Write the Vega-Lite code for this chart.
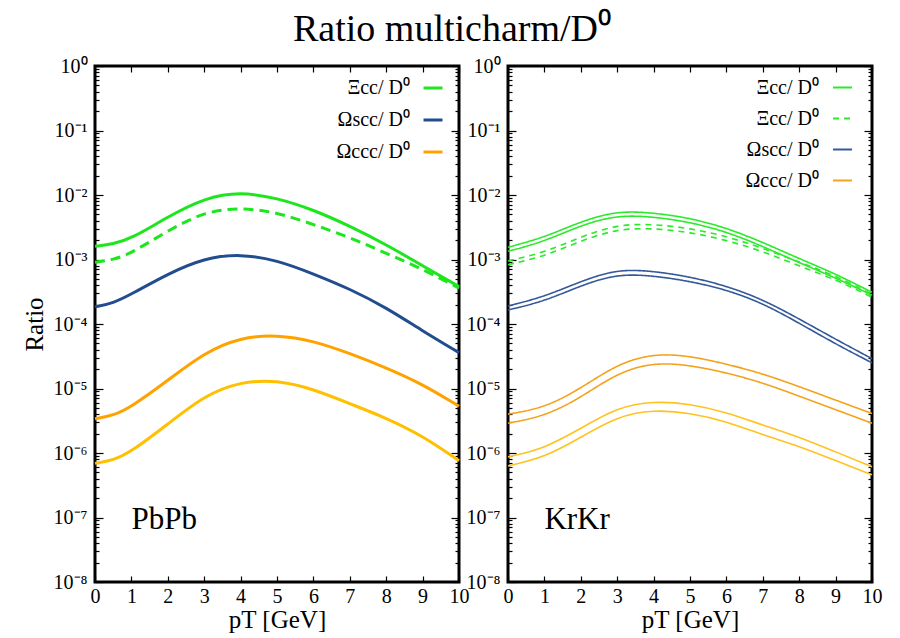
{
  "$schema": "https://vega.github.io/schema/vega-lite/v6.json",
  "title": {
    "text": "Ratio multicharm/D⁰",
    "font": "Liberation Serif",
    "fontSize": 38,
    "fontWeight": "normal",
    "color": "#000",
    "anchor": "middle",
    "frame": "bounds",
    "offset": 6
  },
  "padding": {"left": 20, "top": 10, "right": 5, "bottom": 4},
  "bounds": "flush",
  "spacing": 49,
  "resolve": {
    "scale": {"color": "independent", "strokeDash": "independent"},
    "legend": {"color": "independent", "strokeDash": "independent"}
  },
  "datasets": {
    "pbpb": [
      {"curve": "Xi_cc", "pT": 0, "ratio": 1.6e-3},
      {"curve": "Xi_cc", "pT": 0.5, "ratio": 1.74e-3},
      {"curve": "Xi_cc", "pT": 1, "ratio": 2.1e-3},
      {"curve": "Xi_cc", "pT": 2, "ratio": 4.6e-3},
      {"curve": "Xi_cc", "pT": 3, "ratio": 9.0e-3},
      {"curve": "Xi_cc", "pT": 4, "ratio": 1.12e-2},
      {"curve": "Xi_cc", "pT": 5, "ratio": 9.0e-3},
      {"curve": "Xi_cc", "pT": 6, "ratio": 5.9e-3},
      {"curve": "Xi_cc", "pT": 7, "ratio": 3.3e-3},
      {"curve": "Xi_cc", "pT": 8, "ratio": 1.7e-3},
      {"curve": "Xi_cc", "pT": 9, "ratio": 8.0e-4},
      {"curve": "Xi_cc", "pT": 10, "ratio": 3.8e-4},

      {"curve": "Xi_cc_alt", "pT": 0, "ratio": 9.1e-4},
      {"curve": "Xi_cc_alt", "pT": 0.5, "ratio": 9.9e-4},
      {"curve": "Xi_cc_alt", "pT": 1, "ratio": 1.25e-3},
      {"curve": "Xi_cc_alt", "pT": 2, "ratio": 2.8e-3},
      {"curve": "Xi_cc_alt", "pT": 3, "ratio": 5.5e-3},
      {"curve": "Xi_cc_alt", "pT": 4, "ratio": 6.4e-3},
      {"curve": "Xi_cc_alt", "pT": 5, "ratio": 5.4e-3},
      {"curve": "Xi_cc_alt", "pT": 6, "ratio": 3.5e-3},
      {"curve": "Xi_cc_alt", "pT": 7, "ratio": 2.2e-3},
      {"curve": "Xi_cc_alt", "pT": 8, "ratio": 1.25e-3},
      {"curve": "Xi_cc_alt", "pT": 9, "ratio": 7.1e-4},
      {"curve": "Xi_cc_alt", "pT": 10, "ratio": 3.6e-4},

      {"curve": "Omega_scc", "pT": 0, "ratio": 1.85e-4},
      {"curve": "Omega_scc", "pT": 0.5, "ratio": 2.1e-4},
      {"curve": "Omega_scc", "pT": 1, "ratio": 2.9e-4},
      {"curve": "Omega_scc", "pT": 2, "ratio": 6.0e-4},
      {"curve": "Omega_scc", "pT": 3, "ratio": 1.05e-3},
      {"curve": "Omega_scc", "pT": 4, "ratio": 1.22e-3},
      {"curve": "Omega_scc", "pT": 5, "ratio": 9.8e-4},
      {"curve": "Omega_scc", "pT": 6, "ratio": 6.0e-4},
      {"curve": "Omega_scc", "pT": 7, "ratio": 3.5e-4},
      {"curve": "Omega_scc", "pT": 8, "ratio": 1.8e-4},
      {"curve": "Omega_scc", "pT": 9, "ratio": 7.8e-5},
      {"curve": "Omega_scc", "pT": 10, "ratio": 3.6e-5},

      {"curve": "Omega_ccc", "pT": 0, "ratio": 3.4e-6},
      {"curve": "Omega_ccc", "pT": 0.5, "ratio": 3.8e-6},
      {"curve": "Omega_ccc", "pT": 1, "ratio": 5.2e-6},
      {"curve": "Omega_ccc", "pT": 2, "ratio": 1.33e-5},
      {"curve": "Omega_ccc", "pT": 3, "ratio": 3.6e-5},
      {"curve": "Omega_ccc", "pT": 4, "ratio": 6.2e-5},
      {"curve": "Omega_ccc", "pT": 5, "ratio": 6.8e-5},
      {"curve": "Omega_ccc", "pT": 6, "ratio": 5.5e-5},
      {"curve": "Omega_ccc", "pT": 7, "ratio": 3.5e-5},
      {"curve": "Omega_ccc", "pT": 8, "ratio": 2.1e-5},
      {"curve": "Omega_ccc", "pT": 9, "ratio": 1.17e-5},
      {"curve": "Omega_ccc", "pT": 10, "ratio": 5.3e-6},

      {"curve": "Omega_ccc_alt", "pT": 0, "ratio": 6.9e-7},
      {"curve": "Omega_ccc_alt", "pT": 0.5, "ratio": 7.7e-7},
      {"curve": "Omega_ccc_alt", "pT": 1, "ratio": 1.05e-6},
      {"curve": "Omega_ccc_alt", "pT": 2, "ratio": 2.8e-6},
      {"curve": "Omega_ccc_alt", "pT": 3, "ratio": 7.8e-6},
      {"curve": "Omega_ccc_alt", "pT": 4, "ratio": 1.28e-5},
      {"curve": "Omega_ccc_alt", "pT": 5, "ratio": 1.35e-5},
      {"curve": "Omega_ccc_alt", "pT": 6, "ratio": 9.8e-6},
      {"curve": "Omega_ccc_alt", "pT": 7, "ratio": 5.8e-6},
      {"curve": "Omega_ccc_alt", "pT": 8, "ratio": 3.5e-6},
      {"curve": "Omega_ccc_alt", "pT": 9, "ratio": 1.85e-6},
      {"curve": "Omega_ccc_alt", "pT": 10, "ratio": 7.6e-7}
    ],
    "krkr": [
      {"curve": "Xi_cc", "edge": "hi", "pT": 0, "ratio": 1.55e-3},
      {"curve": "Xi_cc", "edge": "hi", "pT": 1, "ratio": 2.2e-3},
      {"curve": "Xi_cc", "edge": "hi", "pT": 2, "ratio": 3.9e-3},
      {"curve": "Xi_cc", "edge": "hi", "pT": 3, "ratio": 5.7e-3},
      {"curve": "Xi_cc", "edge": "hi", "pT": 4, "ratio": 5.3e-3},
      {"curve": "Xi_cc", "edge": "hi", "pT": 5, "ratio": 4.4e-3},
      {"curve": "Xi_cc", "edge": "hi", "pT": 6, "ratio": 3.1e-3},
      {"curve": "Xi_cc", "edge": "hi", "pT": 7, "ratio": 1.85e-3},
      {"curve": "Xi_cc", "edge": "hi", "pT": 8, "ratio": 1.03e-3},
      {"curve": "Xi_cc", "edge": "hi", "pT": 9, "ratio": 6.0e-4},
      {"curve": "Xi_cc", "edge": "hi", "pT": 10, "ratio": 3.1e-4},
      {"curve": "Xi_cc", "edge": "lo", "pT": 0, "ratio": 1.34e-3},
      {"curve": "Xi_cc", "edge": "lo", "pT": 1, "ratio": 1.9e-3},
      {"curve": "Xi_cc", "edge": "lo", "pT": 2, "ratio": 3.4e-3},
      {"curve": "Xi_cc", "edge": "lo", "pT": 3, "ratio": 4.9e-3},
      {"curve": "Xi_cc", "edge": "lo", "pT": 4, "ratio": 4.6e-3},
      {"curve": "Xi_cc", "edge": "lo", "pT": 5, "ratio": 3.8e-3},
      {"curve": "Xi_cc", "edge": "lo", "pT": 6, "ratio": 2.7e-3},
      {"curve": "Xi_cc", "edge": "lo", "pT": 7, "ratio": 1.6e-3},
      {"curve": "Xi_cc", "edge": "lo", "pT": 8, "ratio": 8.9e-4},
      {"curve": "Xi_cc", "edge": "lo", "pT": 9, "ratio": 5.2e-4},
      {"curve": "Xi_cc", "edge": "lo", "pT": 10, "ratio": 2.8e-4},

      {"curve": "Xi_cc_alt", "edge": "hi", "pT": 0, "ratio": 9.5e-4},
      {"curve": "Xi_cc_alt", "edge": "hi", "pT": 1, "ratio": 1.28e-3},
      {"curve": "Xi_cc_alt", "edge": "hi", "pT": 2, "ratio": 2.25e-3},
      {"curve": "Xi_cc_alt", "edge": "hi", "pT": 3, "ratio": 3.5e-3},
      {"curve": "Xi_cc_alt", "edge": "hi", "pT": 4, "ratio": 3.55e-3},
      {"curve": "Xi_cc_alt", "edge": "hi", "pT": 5, "ratio": 3.05e-3},
      {"curve": "Xi_cc_alt", "edge": "hi", "pT": 6, "ratio": 2.3e-3},
      {"curve": "Xi_cc_alt", "edge": "hi", "pT": 7, "ratio": 1.5e-3},
      {"curve": "Xi_cc_alt", "edge": "hi", "pT": 8, "ratio": 9.1e-4},
      {"curve": "Xi_cc_alt", "edge": "hi", "pT": 9, "ratio": 5.6e-4},
      {"curve": "Xi_cc_alt", "edge": "hi", "pT": 10, "ratio": 2.9e-4},
      {"curve": "Xi_cc_alt", "edge": "lo", "pT": 0, "ratio": 8.3e-4},
      {"curve": "Xi_cc_alt", "edge": "lo", "pT": 1, "ratio": 1.12e-3},
      {"curve": "Xi_cc_alt", "edge": "lo", "pT": 2, "ratio": 1.95e-3},
      {"curve": "Xi_cc_alt", "edge": "lo", "pT": 3, "ratio": 3.0e-3},
      {"curve": "Xi_cc_alt", "edge": "lo", "pT": 4, "ratio": 3.05e-3},
      {"curve": "Xi_cc_alt", "edge": "lo", "pT": 5, "ratio": 2.65e-3},
      {"curve": "Xi_cc_alt", "edge": "lo", "pT": 6, "ratio": 2.0e-3},
      {"curve": "Xi_cc_alt", "edge": "lo", "pT": 7, "ratio": 1.34e-3},
      {"curve": "Xi_cc_alt", "edge": "lo", "pT": 8, "ratio": 7.9e-4},
      {"curve": "Xi_cc_alt", "edge": "lo", "pT": 9, "ratio": 4.9e-4},
      {"curve": "Xi_cc_alt", "edge": "lo", "pT": 10, "ratio": 2.6e-4},

      {"curve": "Omega_scc", "edge": "hi", "pT": 0, "ratio": 1.9e-4},
      {"curve": "Omega_scc", "edge": "hi", "pT": 1, "ratio": 2.65e-4},
      {"curve": "Omega_scc", "edge": "hi", "pT": 2, "ratio": 4.6e-4},
      {"curve": "Omega_scc", "edge": "hi", "pT": 3, "ratio": 7.1e-4},
      {"curve": "Omega_scc", "edge": "hi", "pT": 4, "ratio": 6.6e-4},
      {"curve": "Omega_scc", "edge": "hi", "pT": 5, "ratio": 5.4e-4},
      {"curve": "Omega_scc", "edge": "hi", "pT": 6, "ratio": 3.9e-4},
      {"curve": "Omega_scc", "edge": "hi", "pT": 7, "ratio": 2.4e-4},
      {"curve": "Omega_scc", "edge": "hi", "pT": 8, "ratio": 1.2e-4},
      {"curve": "Omega_scc", "edge": "hi", "pT": 9, "ratio": 5.8e-5},
      {"curve": "Omega_scc", "edge": "hi", "pT": 10, "ratio": 2.9e-5},
      {"curve": "Omega_scc", "edge": "lo", "pT": 0, "ratio": 1.65e-4},
      {"curve": "Omega_scc", "edge": "lo", "pT": 1, "ratio": 2.25e-4},
      {"curve": "Omega_scc", "edge": "lo", "pT": 2, "ratio": 3.95e-4},
      {"curve": "Omega_scc", "edge": "lo", "pT": 3, "ratio": 6.0e-4},
      {"curve": "Omega_scc", "edge": "lo", "pT": 4, "ratio": 5.6e-4},
      {"curve": "Omega_scc", "edge": "lo", "pT": 5, "ratio": 4.6e-4},
      {"curve": "Omega_scc", "edge": "lo", "pT": 6, "ratio": 3.4e-4},
      {"curve": "Omega_scc", "edge": "lo", "pT": 7, "ratio": 2.1e-4},
      {"curve": "Omega_scc", "edge": "lo", "pT": 8, "ratio": 1.03e-4},
      {"curve": "Omega_scc", "edge": "lo", "pT": 9, "ratio": 4.9e-5},
      {"curve": "Omega_scc", "edge": "lo", "pT": 10, "ratio": 2.5e-5},

      {"curve": "Omega_ccc", "edge": "hi", "pT": 0, "ratio": 4.0e-6},
      {"curve": "Omega_ccc", "edge": "hi", "pT": 1, "ratio": 5.0e-6},
      {"curve": "Omega_ccc", "edge": "hi", "pT": 2, "ratio": 1.0e-5},
      {"curve": "Omega_ccc", "edge": "hi", "pT": 3, "ratio": 2.4e-5},
      {"curve": "Omega_ccc", "edge": "hi", "pT": 4, "ratio": 3.5e-5},
      {"curve": "Omega_ccc", "edge": "hi", "pT": 5, "ratio": 3.2e-5},
      {"curve": "Omega_ccc", "edge": "hi", "pT": 6, "ratio": 2.4e-5},
      {"curve": "Omega_ccc", "edge": "hi", "pT": 7, "ratio": 1.7e-5},
      {"curve": "Omega_ccc", "edge": "hi", "pT": 8, "ratio": 1.07e-5},
      {"curve": "Omega_ccc", "edge": "hi", "pT": 9, "ratio": 6.6e-6},
      {"curve": "Omega_ccc", "edge": "hi", "pT": 10, "ratio": 4.1e-6},
      {"curve": "Omega_ccc", "edge": "lo", "pT": 0, "ratio": 2.9e-6},
      {"curve": "Omega_ccc", "edge": "lo", "pT": 1, "ratio": 3.7e-6},
      {"curve": "Omega_ccc", "edge": "lo", "pT": 2, "ratio": 7.2e-6},
      {"curve": "Omega_ccc", "edge": "lo", "pT": 3, "ratio": 1.75e-5},
      {"curve": "Omega_ccc", "edge": "lo", "pT": 4, "ratio": 2.55e-5},
      {"curve": "Omega_ccc", "edge": "lo", "pT": 5, "ratio": 2.3e-5},
      {"curve": "Omega_ccc", "edge": "lo", "pT": 6, "ratio": 1.76e-5},
      {"curve": "Omega_ccc", "edge": "lo", "pT": 7, "ratio": 1.23e-5},
      {"curve": "Omega_ccc", "edge": "lo", "pT": 8, "ratio": 7.6e-6},
      {"curve": "Omega_ccc", "edge": "lo", "pT": 9, "ratio": 4.7e-6},
      {"curve": "Omega_ccc", "edge": "lo", "pT": 10, "ratio": 2.9e-6},

      {"curve": "Omega_ccc_alt", "edge": "hi", "pT": 0, "ratio": 8.7e-7},
      {"curve": "Omega_ccc_alt", "edge": "hi", "pT": 1, "ratio": 1.17e-6},
      {"curve": "Omega_ccc_alt", "edge": "hi", "pT": 2, "ratio": 2.4e-6},
      {"curve": "Omega_ccc_alt", "edge": "hi", "pT": 3, "ratio": 5.1e-6},
      {"curve": "Omega_ccc_alt", "edge": "hi", "pT": 4, "ratio": 6.4e-6},
      {"curve": "Omega_ccc_alt", "edge": "hi", "pT": 5, "ratio": 5.8e-6},
      {"curve": "Omega_ccc_alt", "edge": "hi", "pT": 6, "ratio": 4.3e-6},
      {"curve": "Omega_ccc_alt", "edge": "hi", "pT": 7, "ratio": 2.7e-6},
      {"curve": "Omega_ccc_alt", "edge": "hi", "pT": 8, "ratio": 1.78e-6},
      {"curve": "Omega_ccc_alt", "edge": "hi", "pT": 9, "ratio": 1.04e-6},
      {"curve": "Omega_ccc_alt", "edge": "hi", "pT": 10, "ratio": 6.1e-7},
      {"curve": "Omega_ccc_alt", "edge": "lo", "pT": 0, "ratio": 6.3e-7},
      {"curve": "Omega_ccc_alt", "edge": "lo", "pT": 1, "ratio": 8.5e-7},
      {"curve": "Omega_ccc_alt", "edge": "lo", "pT": 2, "ratio": 1.75e-6},
      {"curve": "Omega_ccc_alt", "edge": "lo", "pT": 3, "ratio": 3.7e-6},
      {"curve": "Omega_ccc_alt", "edge": "lo", "pT": 4, "ratio": 4.7e-6},
      {"curve": "Omega_ccc_alt", "edge": "lo", "pT": 5, "ratio": 4.2e-6},
      {"curve": "Omega_ccc_alt", "edge": "lo", "pT": 6, "ratio": 3.1e-6},
      {"curve": "Omega_ccc_alt", "edge": "lo", "pT": 7, "ratio": 1.9e-6},
      {"curve": "Omega_ccc_alt", "edge": "lo", "pT": 8, "ratio": 1.28e-6},
      {"curve": "Omega_ccc_alt", "edge": "lo", "pT": 9, "ratio": 7.6e-7},
      {"curve": "Omega_ccc_alt", "edge": "lo", "pT": 10, "ratio": 4.6e-7}
    ]
  },
  "hconcat": [
    {
      "width": 364,
      "height": 516,
      "data": {"name": "pbpb"},
      "layer": [
        {
          "transform": [{"filter": {"field": "curve", "oneOf": ["Xi_cc", "Omega_scc", "Omega_ccc"]}}],
          "mark": {"type": "line", "strokeWidth": 3, "interpolate": "basis"},
          "encoding": {
            "x": {
              "field": "pT", "type": "quantitative",
              "scale": {"domain": [0, 10], "nice": false},
              "axis": {"orient": "bottom", "values": [0, 1, 2, 3, 4, 5, 6, 7, 8, 9, 10], "tickSize": -6, "labelPadding": 10, "labelFlush": false, "title": "pT [GeV]", "titlePadding": 1}
            },
            "y": {
              "field": "ratio", "type": "quantitative",
              "scale": {"type": "log", "domain": [1e-8, 1], "nice": false},
              "axis": {
                "orient": "left",
                "title": "Ratio",
                "titlePadding": 6,
                "labelPadding": 16,
                "values": [1e-8, 2e-8, 3e-8, 4e-8, 5e-8, 6e-8, 7e-8, 8e-8, 9e-8, 1e-7, 2e-7, 3e-7, 4e-7, 5e-7, 6e-7, 7e-7, 8e-7, 9e-7, 1e-6, 2e-6, 3e-6, 4e-6, 5e-6, 6e-6, 7e-6, 8e-6, 9e-6, 1e-5, 2e-5, 3e-5, 4e-5, 5e-5, 6e-5, 7e-5, 8e-5, 9e-5, 1e-4, 2e-4, 3e-4, 4e-4, 5e-4, 6e-4, 7e-4, 8e-4, 9e-4, 1e-3, 2e-3, 3e-3, 4e-3, 5e-3, 6e-3, 7e-3, 8e-3, 9e-3, 1e-2, 2e-2, 3e-2, 4e-2, 5e-2, 6e-2, 7e-2, 8e-2, 9e-2, 1e-1, 2e-1, 3e-1, 4e-1, 5e-1, 6e-1, 7e-1, 8e-1, 9e-1, 1],
                "labelExpr": "abs(log(datum.value)/LN10 - round(log(datum.value)/LN10)) < 0.001 ? ['10⁰','10⁻¹','10⁻²','10⁻³','10⁻⁴','10⁻⁵','10⁻⁶','10⁻⁷','10⁻⁸'][-round(log(datum.value)/LN10)] : ''",
                "tickSize": {"condition": {"test": "abs(log(datum.value)/LN10 - round(log(datum.value)/LN10)) < 0.001", "value": -8}, "value": -4}
              }
            },
            "color": {
              "field": "curve", "type": "nominal",
              "scale": {"domain": ["Xi_cc", "Omega_scc", "Omega_ccc"], "range": ["#1ee61e", "#214d8f", "#ffa200"]},
              "legend": {
                "orient": "none",
                "legendX": 327,
                "legendY": 11,
                "title": null,
                "labelExpr": "datum.label === 'Xi_cc' ? 'Ξcc/ D⁰' : datum.label === 'Omega_scc' ? 'Ωscc/ D⁰' : 'Ωccc/ D⁰'",
                "labelAlign": "right",
                "labelOffset": -34,
                "symbolType": "stroke",
                "symbolSize": 360,
                "symbolStrokeWidth": 3,
                "rowPadding": 11
              }
            }
          }
        },
        {
          "transform": [{"filter": {"field": "curve", "equal": "Xi_cc_alt"}}],
          "mark": {"type": "line", "strokeWidth": 3, "strokeDash": [10, 6], "color": "#1ee61e", "interpolate": "basis"},
          "encoding": {
            "x": {"field": "pT", "type": "quantitative", "axis": {"orient": "top", "values": [0, 1, 2, 3, 4, 5, 6, 7, 8, 9, 10], "tickSize": -6, "labels": false, "title": null}},
            "y": {
              "field": "ratio", "type": "quantitative",
              "axis": {
                "orient": "right", "labels": false, "title": null,
                "values": [1e-8, 2e-8, 3e-8, 4e-8, 5e-8, 6e-8, 7e-8, 8e-8, 9e-8, 1e-7, 2e-7, 3e-7, 4e-7, 5e-7, 6e-7, 7e-7, 8e-7, 9e-7, 1e-6, 2e-6, 3e-6, 4e-6, 5e-6, 6e-6, 7e-6, 8e-6, 9e-6, 1e-5, 2e-5, 3e-5, 4e-5, 5e-5, 6e-5, 7e-5, 8e-5, 9e-5, 1e-4, 2e-4, 3e-4, 4e-4, 5e-4, 6e-4, 7e-4, 8e-4, 9e-4, 1e-3, 2e-3, 3e-3, 4e-3, 5e-3, 6e-3, 7e-3, 8e-3, 9e-3, 1e-2, 2e-2, 3e-2, 4e-2, 5e-2, 6e-2, 7e-2, 8e-2, 9e-2, 1e-1, 2e-1, 3e-1, 4e-1, 5e-1, 6e-1, 7e-1, 8e-1, 9e-1, 1],
                "tickSize": {"condition": {"test": "abs(log(datum.value)/LN10 - round(log(datum.value)/LN10)) < 0.001", "value": -8}, "value": -4}
              }
            }
          }
        },
        {
          "transform": [{"filter": {"field": "curve", "equal": "Omega_ccc_alt"}}],
          "mark": {"type": "line", "strokeWidth": 3, "color": "#ffc000", "interpolate": "basis"},
          "encoding": {
            "x": {"field": "pT", "type": "quantitative", "axis": null},
            "y": {"field": "ratio", "type": "quantitative", "axis": null}
          }
        },
        {
          "data": {"values": [{}]},
          "mark": {"type": "text", "text": "PbPb", "font": "Liberation Serif", "fontSize": 31, "align": "left", "baseline": "middle", "color": "#000"},
          "encoding": {
            "x": {"datum": 1, "type": "quantitative", "axis": null},
            "y": {"datum": 9e-8, "type": "quantitative", "axis": null}
          }
        }
      ]
    },
    {
      "width": 364,
      "height": 516,
      "data": {"name": "krkr"},
      "layer": [
        {
          "transform": [{"filter": {"field": "curve", "oneOf": ["Xi_cc", "Xi_cc_alt", "Omega_scc", "Omega_ccc"]}}],
          "mark": {"type": "line", "strokeWidth": 1.6, "interpolate": "basis"},
          "encoding": {
            "x": {
              "field": "pT", "type": "quantitative",
              "scale": {"domain": [0, 10], "nice": false},
              "axis": {"orient": "bottom", "values": [0, 1, 2, 3, 4, 5, 6, 7, 8, 9, 10], "tickSize": -6, "labelPadding": 10, "labelFlush": false, "title": "pT [GeV]", "titlePadding": 1}
            },
            "y": {
              "field": "ratio", "type": "quantitative",
              "scale": {"type": "log", "domain": [1e-8, 1], "nice": false},
              "axis": {
                "orient": "left",
                "title": null,
                "labelPadding": 16,
                "values": [1e-8, 2e-8, 3e-8, 4e-8, 5e-8, 6e-8, 7e-8, 8e-8, 9e-8, 1e-7, 2e-7, 3e-7, 4e-7, 5e-7, 6e-7, 7e-7, 8e-7, 9e-7, 1e-6, 2e-6, 3e-6, 4e-6, 5e-6, 6e-6, 7e-6, 8e-6, 9e-6, 1e-5, 2e-5, 3e-5, 4e-5, 5e-5, 6e-5, 7e-5, 8e-5, 9e-5, 1e-4, 2e-4, 3e-4, 4e-4, 5e-4, 6e-4, 7e-4, 8e-4, 9e-4, 1e-3, 2e-3, 3e-3, 4e-3, 5e-3, 6e-3, 7e-3, 8e-3, 9e-3, 1e-2, 2e-2, 3e-2, 4e-2, 5e-2, 6e-2, 7e-2, 8e-2, 9e-2, 1e-1, 2e-1, 3e-1, 4e-1, 5e-1, 6e-1, 7e-1, 8e-1, 9e-1, 1],
                "labelExpr": "abs(log(datum.value)/LN10 - round(log(datum.value)/LN10)) < 0.001 ? ['10⁰','10⁻¹','10⁻²','10⁻³','10⁻⁴','10⁻⁵','10⁻⁶','10⁻⁷','10⁻⁸'][-round(log(datum.value)/LN10)] : ''",
                "tickSize": {"condition": {"test": "abs(log(datum.value)/LN10 - round(log(datum.value)/LN10)) < 0.001", "value": -8}, "value": -4}
              }
            },
            "color": {
              "field": "curve", "type": "nominal",
              "scale": {"domain": ["Xi_cc", "Xi_cc_alt", "Omega_scc", "Omega_ccc"], "range": ["#2aea2a", "#2aea2a", "#34599a", "#f5a21a"]},
              "legend": {
                "orient": "none",
                "legendX": 324,
                "legendY": 11,
                "title": null,
                "labelExpr": "indexof(datum.label, 'Xi') === 0 ? 'Ξcc/ D⁰' : datum.label === 'Omega_scc' ? 'Ωscc/ D⁰' : 'Ωccc/ D⁰'",
                "labelAlign": "right",
                "labelOffset": -34,
                "symbolType": "stroke",
                "symbolSize": 360,
                "symbolStrokeWidth": 2,
                "rowPadding": 10,
                "encode": {
                  "symbols": {"update": {"strokeDash": {"signal": "datum.value === 'Xi_cc_alt' ? [6, 4] : [1, 0]"}}}
                }
              }
            },
            "strokeDash": {
              "field": "curve", "type": "nominal",
              "scale": {"domain": ["Xi_cc", "Xi_cc_alt", "Omega_scc", "Omega_ccc"], "range": [[1, 0], [6, 5], [1, 0], [1, 0]]},
              "legend": null
            },
            "detail": {"field": "edge", "type": "nominal"}
          }
        },
        {
          "transform": [{"filter": {"field": "curve", "equal": "Omega_ccc_alt"}}],
          "mark": {"type": "line", "strokeWidth": 1.6, "color": "#ffc21f", "interpolate": "basis"},
          "encoding": {
            "x": {"field": "pT", "type": "quantitative", "axis": {"orient": "top", "values": [0, 1, 2, 3, 4, 5, 6, 7, 8, 9, 10], "tickSize": -6, "labels": false, "title": null}},
            "y": {
              "field": "ratio", "type": "quantitative",
              "axis": {
                "orient": "right", "labels": false, "title": null,
                "values": [1e-8, 2e-8, 3e-8, 4e-8, 5e-8, 6e-8, 7e-8, 8e-8, 9e-8, 1e-7, 2e-7, 3e-7, 4e-7, 5e-7, 6e-7, 7e-7, 8e-7, 9e-7, 1e-6, 2e-6, 3e-6, 4e-6, 5e-6, 6e-6, 7e-6, 8e-6, 9e-6, 1e-5, 2e-5, 3e-5, 4e-5, 5e-5, 6e-5, 7e-5, 8e-5, 9e-5, 1e-4, 2e-4, 3e-4, 4e-4, 5e-4, 6e-4, 7e-4, 8e-4, 9e-4, 1e-3, 2e-3, 3e-3, 4e-3, 5e-3, 6e-3, 7e-3, 8e-3, 9e-3, 1e-2, 2e-2, 3e-2, 4e-2, 5e-2, 6e-2, 7e-2, 8e-2, 9e-2, 1e-1, 2e-1, 3e-1, 4e-1, 5e-1, 6e-1, 7e-1, 8e-1, 9e-1, 1],
                "tickSize": {"condition": {"test": "abs(log(datum.value)/LN10 - round(log(datum.value)/LN10)) < 0.001", "value": -8}, "value": -4}
              }
            },
            "detail": {"field": "edge", "type": "nominal"}
          }
        },
        {
          "data": {"values": [{}]},
          "mark": {"type": "text", "text": "KrKr", "font": "Liberation Serif", "fontSize": 31, "align": "left", "baseline": "middle", "color": "#000"},
          "encoding": {
            "x": {"datum": 1, "type": "quantitative", "axis": null},
            "y": {"datum": 9e-8, "type": "quantitative", "axis": null}
          }
        }
      ]
    }
  ],
  "config": {
    "font": "Liberation Serif",
    "view": {"stroke": "#000", "strokeWidth": 3},
    "axis": {
      "domain": false,
      "grid": false,
      "labelFont": "Liberation Serif",
      "titleFont": "Liberation Serif",
      "labelFontSize": 20,
      "titleFontSize": 25,
      "titleFontWeight": "normal",
      "labelColor": "#000",
      "titleColor": "#000",
      "tickColor": "#000",
      "tickWidth": 1.2
    },
    "legend": {
      "labelFont": "Liberation Serif",
      "labelFontSize": 20,
      "labelColor": "#000",
      "padding": 0
    }
  }
}
